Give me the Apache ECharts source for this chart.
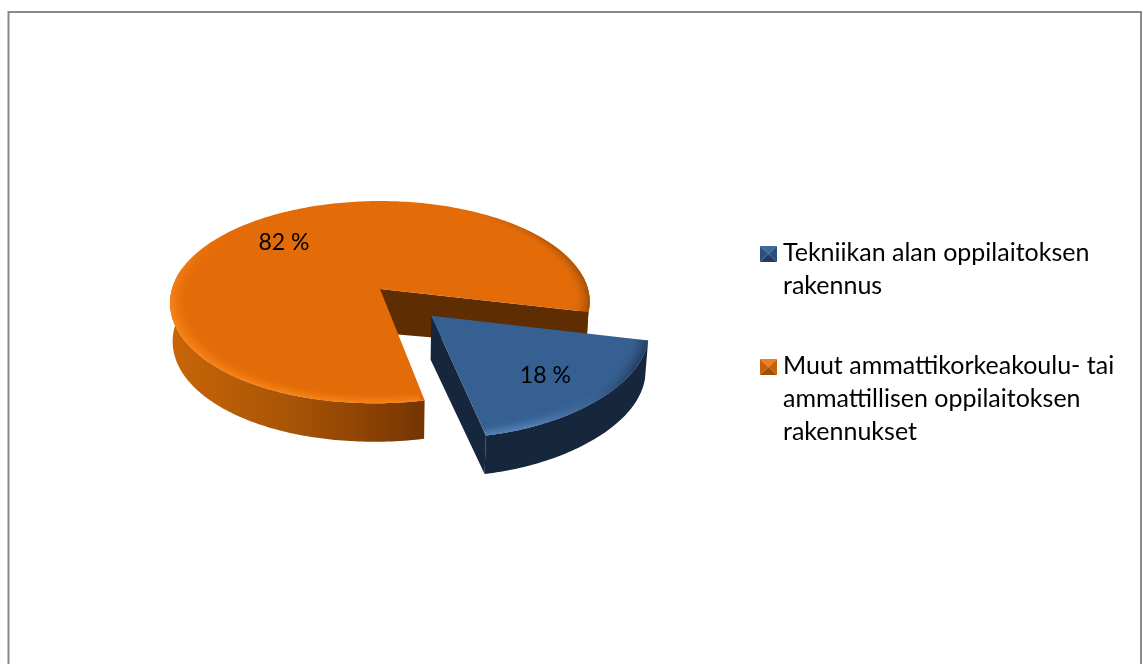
<!DOCTYPE html>
<html>
<head>
<meta charset="utf-8">
<style>html,body{margin:0;padding:0;background:#fff}#chart{width:1143px;height:664px}</style>
<script src="https://cdn.jsdelivr.net/npm/echarts@6/dist/echarts.min.js"></script>
</head>
<body>
<div id="chart"></div>
<script>
// Building types, share of each (percent) and the legend wording
const categories = ['Tekniikan alan oppilaitoksen\nrakennus', 'Muut ammattikorkeakoulu- tai\nammattillisen oppilaitoksen\nrakennukset'];
const shares = [18, 82];
const shareLabels = ['18 %', '82 %'];

// Tilted disc: apex position, radii and perspective strength
const centre = [380, 289];
const radii = [208, 99.4];
const perspective = 0.13;
const firstAngle = 13;
const exploded = [[0.24, 0.26], [0, 0]];
const FONT = 'Lato';

const palette = [
  { top: '#366092', wall: '#16263d', inner: '#16263d', light: '#5f8bc2', dark: '#1f3555' },
  { top: '#e36c09', wall: null, inner: '#5e2d02', light: '#ff8a1c', dark: '#8f4504' }
];

const rad = d => d * Math.PI / 180;

// Disc coordinates (u right, v towards the viewer) to screen pixels;
// the near half leans a little to the left
function project(u, v) {
  const w = 1 - perspective * v;
  const near = Math.min(Math.max(v, 0), 1);
  return [centre[0] + radii[0] * u / w - 6 * near * near, centre[1] + radii[1] * v / w];
}
function disc(idx, r, deg) {
  const o = exploded[idx];
  return project(o[0] + r * Math.cos(rad(deg)), o[1] + r * Math.sin(rad(deg)));
}
// Lower edge of the slab: depth shrinks slightly towards the rim
function drop(p, r) {
  return [centre[0] + (p[0] - centre[0]) * 0.988, p[1] + 44 - 5.5 * r];
}
function arc(idx, r, a, b) {
  const pts = [];
  const n = Math.max(2, Math.ceil(Math.abs(b - a)));
  for (let i = 0; i <= n; i++) pts.push(disc(idx, r, a + (b - a) * i / n));
  return pts;
}
function poly(points, fill, opacity) {
  return { type: 'polygon', shape: { points }, style: { fill, opacity: opacity == null ? 1 : opacity, stroke: null } };
}
// Soft bevel: nested strips that build up towards the rim
const bevelRadii = [0.93, 0.94, 0.95, 0.96, 0.97, 0.98, 0.99];
const bevelOpacity = [0.04, 0.07, 0.1, 0.14, 0.18, 0.24, 0.3];
function rimBand(idx, a, b, fill, gain) {
  return bevelRadii.map((r, i) =>
    poly(arc(idx, 1, a, b).concat(arc(idx, r, b, a)), fill, bevelOpacity[i] * gain));
}

function sliceAngles(idx) {
  const total = shares.reduce((s, v) => s + v, 0);
  let start = firstAngle;
  for (let i = 0; i < idx; i++) start += shares[i] / total * 360;
  return [start, start + shares[idx] / total * 360];
}

function renderSlice(params, api) {
  const idx = params.seriesIndex === 0 ? 1 : 0;
  const [a, b] = sliceAngles(idx);
  const c = palette[idx];
  const apex = disc(idx, 0, 0);
  const kids = [];
  const LG = echarts.graphic.LinearGradient;

  if (idx === 1) {
    // Outer wall of the large slice, front part and the sliver at the far right
    const frontTop = arc(idx, 1, a, 192);
    const frontBottom = frontTop.map(p => drop(p, 1)).reverse();
    const wallFill = new LG(170, 0, 426, 0, [
      { offset: 0, color: '#c96507' }, { offset: 0.45, color: '#a95506' },
      { offset: 0.75, color: '#8f4304' }, { offset: 1, color: '#733502' }
    ], true);
    kids.push(poly(frontTop.concat(frontBottom), wallFill));
    const sideTop = arc(idx, 1, 352, b);
    kids.push(poly(sideTop.concat(sideTop.map(p => drop(p, 1)).reverse()), '#6b3402'));
    // Cut face running from the apex out to the rim
    const rim = disc(idx, 1, b);
    kids.push(poly([apex, rim, drop(rim, 1), drop(apex, 0)], c.inner));
  } else {
    // Arc wall and the cut face of the pulled-out slice
    const t = arc(idx, 1, a, b);
    kids.push(poly(t.concat(t.map(p => drop(p, 1)).reverse()), c.wall));
    const end = disc(idx, 1, b);
    kids.push(poly([apex, end, drop(end, 1), drop(apex, 0)], c.inner));
  }

  // Top face
  kids.push(poly([apex].concat(arc(idx, 1, a, b)), c.top));

  // Bevelled rim
  if (idx === 1) {
    const fadeUp = new LG(0, 230, 0, 310, [
      { offset: 0, color: 'rgba(255,138,28,0)' }, { offset: 1, color: c.light }
    ], true);
    rimBand(idx, a + 1, 245, fadeUp, 1).forEach(k => kids.push(k));
    const fadeRight = new LG(470, 0, 590, 0, [
      { offset: 0, color: 'rgba(143,69,4,0)' }, { offset: 1, color: c.dark }
    ], true);
    rimBand(idx, 285, b, fadeRight, 0.9).forEach(k => kids.push(k));
  } else {
    const bandFill = new LG(635, 0, 530, 0, [
      { offset: 0, color: c.dark }, { offset: 0.4, color: '#3a6494' }, { offset: 1, color: c.light }
    ], true);
    rimBand(idx, a, b, bandFill, 1).forEach(k => kids.push(k));
  }

  // Value text sits at 70 % of the radius on the slice's middle angle
  const at = disc(idx, 0.7, (a + b) / 2);
  kids.push({
    type: 'text',
    style: { text: shareLabels[idx], x: at[0], y: at[1] + (idx === 0 ? 3 : 0), align: 'center', verticalAlign: 'middle',
      font: '23px ' + FONT, fill: '#000' }
  });
  return { type: 'group', children: kids };
}

// Legend swatch with four bevel facets
function swatch(x, y, facets) {
  const w = 17, h = 16, mx = x + w / 2, my = y + h / 2;
  const corners = [[x, y], [x + w, y], [x + w, y + h], [x, y + h]];
  return corners.map((p, i) => ({
    type: 'polygon',
    shape: { points: [p, corners[(i + 1) % 4], [mx, my]] },
    style: { fill: facets[i] }
  }));
}
const swatchFacets = [
  ['#3a6aa0', '#2b5080', '#203c5e', '#2b5080'],
  ['#ee8024', '#c56108', '#a04d08', '#c56108']
];
const legendTops = [236.5, 349.5];
const legendSwatchY = [246, 359];

const legendGraphics = [];
categories.forEach((name, i) => {
  swatch(760, legendSwatchY[i], swatchFacets[i]).forEach(s => legendGraphics.push(s));
  legendGraphics.push({
    type: 'text', left: 783, top: legendTops[i],
    style: { text: name, font: '25px ' + FONT, fill: '#000', lineHeight: 33 }
  });
});

const chart = echarts.init(document.getElementById('chart'), null, { renderer: 'canvas' });
chart.setOption({
  animation: false,
  backgroundColor: '#ffffff',
  graphic: { elements: [
    { type: 'polyline', shape: { points: [[8.5, 670], [8.5, 12], [1141, 12], [1141, 670]] },
      style: { stroke: '#8a8a8a', lineWidth: 2, fill: null } }
  ].concat(legendGraphics) },
  // The larger slice is painted first so the pulled-out one overlaps it
  series: [1, 0].map(i => ({
    type: 'custom',
    name: categories[i],
    coordinateSystem: 'none',
    silent: true,
    data: [[shares[i]]],
    renderItem: renderSlice
  }))
});
</script>
</body>
</html>
